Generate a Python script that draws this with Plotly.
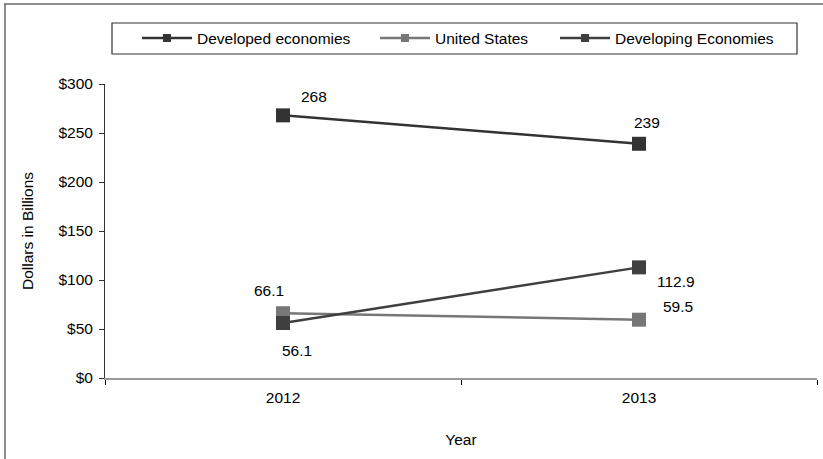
import plotly.graph_objects as go

years = ["2012", "2013"]
developed = [268, 239]
united_states = [66.1, 59.5]
developing = [56.1, 112.9]

series_names = ["Developed economies", "United States", "Developing Economies"]
series_values = [developed, united_states, developing]
series_colors = ["#333333", "#777777", "#3f3f3f"]

# label offsets (px) for each point's value text
label_shifts = [
    [(31, 19), (8, 21)],
    [(-14, 23), (39, 13)],
    [(14, -27), (37, -14)],
]

W, H = 823, 459
L, R, T, B = 105, 6, 84, 81
FONT = "Liberation Sans, Arial, sans-serif"
FS = 15.5

plot_w = W - L - R
plot_h = H - T - B


def px_x(p):
    return (p - L) / plot_w


def px_y(p):
    return 1 - (p - T) / plot_h


legend_ids = ["legend", "legend2", "legend3"]
legend_left_px = [137, 375, 555]

fig = go.Figure()

for name, vals, col, lid in zip(series_names, series_values, series_colors, legend_ids):
    fig.add_trace(go.Scatter(
        x=years, y=vals, name=name, mode="lines+markers",
        line=dict(color=col, width=2.5),
        marker=dict(symbol="square", size=14, color=col),
        showlegend=False,
    ))
    # smaller-marker entry for the legend
    fig.add_trace(go.Scatter(
        x=[None], y=[None], name=name, mode="lines+markers",
        line=dict(color=col, width=2.5),
        marker=dict(symbol="square", size=8, color=col),
        showlegend=True, legend=lid,
    ))

for vals, shifts in zip(series_values, label_shifts):
    for i, (v, (dx, dy)) in enumerate(zip(vals, shifts)):
        fig.add_annotation(
            x=i, y=v, text=f"{v:g}", showarrow=False,
            xshift=dx, yshift=dy,
            font=dict(family=FONT, size=FS, color="#000000"),
        )

shapes = [
    # outer chart frame (left and top edges)
    dict(type="line", xref="paper", yref="paper",
         x0=px_x(5), x1=px_x(5), y0=px_y(4), y1=px_y(H + 2),
         line=dict(color="#8c8c8c", width=2)),
    dict(type="line", xref="paper", yref="paper",
         x0=px_x(4), x1=px_x(823), y0=px_y(4), y1=px_y(4),
         line=dict(color="#6a6a6a", width=1.5)),
    # legend frame
    dict(type="rect", xref="paper", yref="paper",
         x0=px_x(112), x1=px_x(797), y0=px_y(23), y1=px_y(54),
         line=dict(color="#333333", width=1.2), fillcolor="rgba(0,0,0,0)"),
]

legend_style = dict(
    orientation="h", xanchor="left", yanchor="middle",
    bgcolor="rgba(0,0,0,0)", borderwidth=0,
    font=dict(family=FONT, size=FS, color="#000000"),
    itemwidth=50,
)
legends = {}
for lid, lx in zip(legend_ids, legend_left_px):
    legends[lid] = dict(legend_style, x=px_x(lx), y=px_y(38.5))

fig.update_layout(
    width=W, height=H,
    margin=dict(l=L, r=R, t=T, b=B),
    paper_bgcolor="white", plot_bgcolor="white",
    font=dict(family=FONT, size=FS, color="#000000"),
    shapes=shapes,
    **legends,
    xaxis=dict(
        type="category", range=[-0.5, 1.5],
        showgrid=False, showline=True, linecolor="#999999", linewidth=2,
        ticks="outside", tickson="boundaries", ticklen=5, tickcolor="#000000",
        ticklabelstandoff=4,
        title=dict(text="Year", standoff=30,
                   font=dict(family=FONT, size=FS)),
        tickfont=dict(family=FONT, size=FS),
        zeroline=False,
    ),
    yaxis=dict(
        range=[0, 300], tickvals=[0, 50, 100, 150, 200, 250, 300],
        ticktext=["$0", "$50", "$100", "$150", "$200", "$250", "$300"],
        showgrid=False, showline=True, linecolor="#333333", linewidth=1,
        ticks="outside", ticklen=5, tickcolor="#333333",
        ticklabelstandoff=3,
        title=dict(text="Dollars in Billions", standoff=20,
                   font=dict(family=FONT, size=FS)),
        tickfont=dict(family=FONT, size=FS),
        zeroline=False,
    ),
)

fig.write_html("out.html")
